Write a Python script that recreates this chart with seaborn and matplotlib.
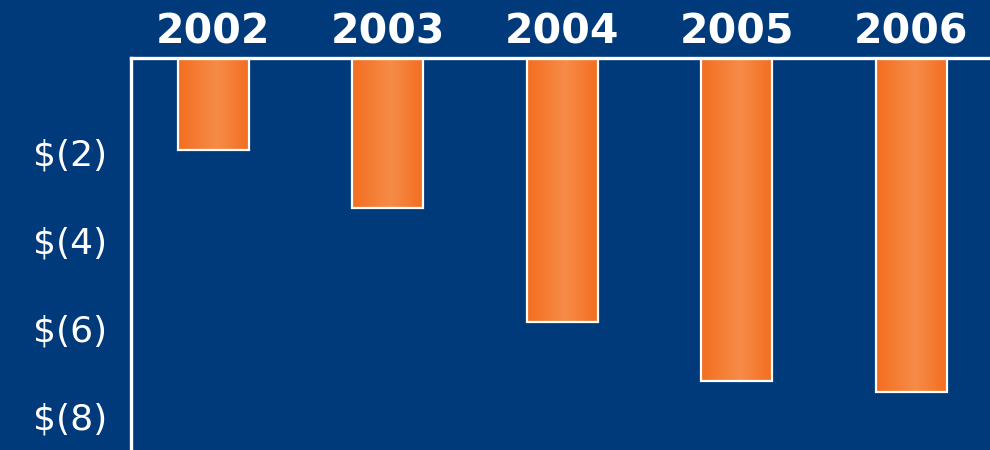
import numpy as np
import pandas as pd
import matplotlib
matplotlib.use("Agg")
import matplotlib.pyplot as plt
import matplotlib.transforms as mtransforms
from matplotlib.colors import LinearSegmentedColormap
import seaborn as sns

# ---- data ----
years = ["2002", "2003", "2004", "2005", "2006"]
values = [-2.1, -3.4, -6.0, -7.35, -7.6]
ytick_values = [-2, -4, -6, -8]
ytick_labels = ["$(2)", "$(4)", "$(6)", "$(8)"]

BG = "#003A7B"
ORANGE_DARK = "#F36E20"
ORANGE_LIGHT = "#F68C48"

sns.set_theme(style="white")
plt.rcParams["font.family"] = ["DejaVu Sans"]

fig = plt.figure(figsize=(9.9, 4.5), dpi=100, facecolor=BG)
ax = fig.add_axes([131 / 990, 0.0, 1 - 131 / 990, (450 - 58) / 450])
ax.set_facecolor(BG)

df = pd.DataFrame({"year": years, "value": values})
sns.barplot(data=df, x="year", y="value", color=ORANGE_DARK, saturation=1,
            width=0.407, ax=ax, edgecolor="white", linewidth=1.6, zorder=3)

cmap = LinearSegmentedColormap.from_list(
    "og", [(0.0, ORANGE_DARK), (0.55, ORANGE_LIGHT), (1.0, ORANGE_DARK)])
grad = np.linspace(0, 1, 256).reshape(1, -1)
for p in list(ax.patches):
    x, y = p.get_x(), p.get_y()
    w, h = p.get_width(), p.get_height()
    p.set_facecolor("none")
    im = ax.imshow(grad, cmap=cmap, aspect="auto", interpolation="bicubic",
                   extent=[x, x + w, y + h, y], zorder=2.5)
    im.set_clip_path(p)

ax.set_xlim(-0.473, 4.452)
ax.set_ylim(-8.91, 0)
ax.set_yticks(ytick_values)
ax.set_yticklabels(ytick_labels)
ax.set_xlabel("")
ax.set_ylabel("")

ax.xaxis.tick_top()
ax.tick_params(axis="x", length=0, pad=4, labelsize=29.5, labelcolor="white")
ax.tick_params(axis="y", length=0, pad=17, labelsize=26, labelcolor="white")
for lab in ax.get_xticklabels():
    lab.set_fontweight("bold")

# shift y labels slightly down to match reference
offset = mtransforms.ScaledTranslation(0, -6 / 100, fig.dpi_scale_trans)
for lab in ax.get_yticklabels():
    lab.set_transform(lab.get_transform() + offset)

for side in ["right", "bottom"]:
    ax.spines[side].set_visible(False)
for side in ["left", "top"]:
    ax.spines[side].set_visible(True)
    ax.spines[side].set_color("white")
    ax.spines[side].set_linewidth(2.4)
    ax.spines[side].set_zorder(4)

fig.savefig("out.png", dpi=100, facecolor=BG)
